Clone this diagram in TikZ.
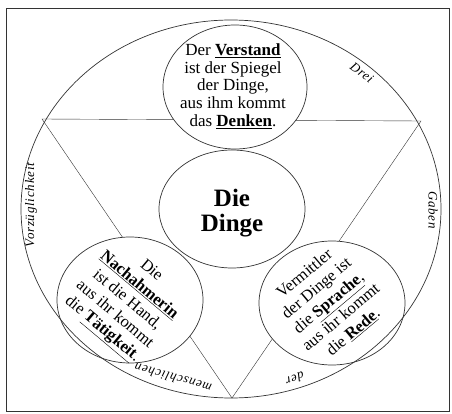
\documentclass[tikz,border=0pt]{standalone}
\usepackage{fontspec}
\setmainfont{Liberation Serif}
\usetikzlibrary{shapes.geometric,backgrounds}
\begin{document}
\begin{tikzpicture}[x=1pt,y=-1pt,line width=0.7pt,
  ln/.style={draw=black!80},
  disc/.style={ellipse,draw=black!80,inner sep=0pt},
  ctext/.style={align=center,font=\fontsize{17}{17.8}\selectfont,inner sep=0pt},
  rtext/.style={align=center,font=\fontsize{16.5}{19}\selectfont,inner sep=0pt},
  olabel/.style={font=\fontsize{13}{13}\selectfont\itshape\addfontfeature{LetterSpace=6},inner sep=0pt}]
\useasboundingbox (0,0) rectangle (452,414);
\draw[ln] (6,8) rectangle (449,411);
\node[disc,minimum width=420pt,minimum height=378pt] (outer) at (231,209) {};
\coordinate (A) at (42,119);
\coordinate (B) at (421,121);
\coordinate (C) at (232,398);
\node[disc,minimum width=144pt,minimum height=124pt] (top) at (235,87) {};
\node[disc,minimum width=146pt,minimum height=118pt] (mid) at (232,209) {};
\node[disc,minimum width=146pt,minimum height=126pt] (bl) at (130,300) {};
\node[disc,minimum width=146pt,minimum height=124pt] (br) at (332,303) {};
\begin{scope}[on background layer]
  \draw[ln] (A) -- (B) -- (C) -- cycle;
  \fill[white] (top.center) ellipse [x radius=72pt,y radius=62pt];
  \fill[white] (mid.center) ellipse [x radius=73pt,y radius=59pt];
  \fill[white] (bl.center) ellipse [x radius=73pt,y radius=63pt];
  \fill[white] (br.center) ellipse [x radius=73pt,y radius=62pt];
\end{scope}
\node[ctext] (ttop) at (233,86) {Der \underline{\textbf{Verstand}}\\ist der Spiegel\\der Dinge,\\aus ihm kommt\\das \underline{\textbf{Denken}}.};
\node[align=center,inner sep=0pt,font=\fontsize{25}{25}\selectfont\bfseries] (tmid) at (232,213) {Die\\Dinge};
\node[rtext,rotate=-40] (tbl) at (126,301) {Die\\\underline{\textbf{Nachahmerin}}\\ist die Hand,\\aus ihr kommt\\die \underline{\textbf{Tätigkeit}}.};
\node[rtext,rotate=40] (tbr) at (329,303) {Vermittler\\der Dinge ist\\die \underline{\textbf{Sprache}},\\aus ihr kommt\\die \underline{\textbf{Rede}}.};
\node[olabel,rotate=-37.5] (l1) at (362,73) {Drei};
\node[olabel,rotate=-90] (l2) at (433,210) {Gaben};
\node[olabel,rotate=197] (l3) at (295,379) {der};
\node[olabel,rotate=164.6] (l4) at (173,378) {menschlichen};
\node[olabel,rotate=90] (l5) at (31,205) {Vorzüglichkeit};
\end{tikzpicture}
\end{document}
